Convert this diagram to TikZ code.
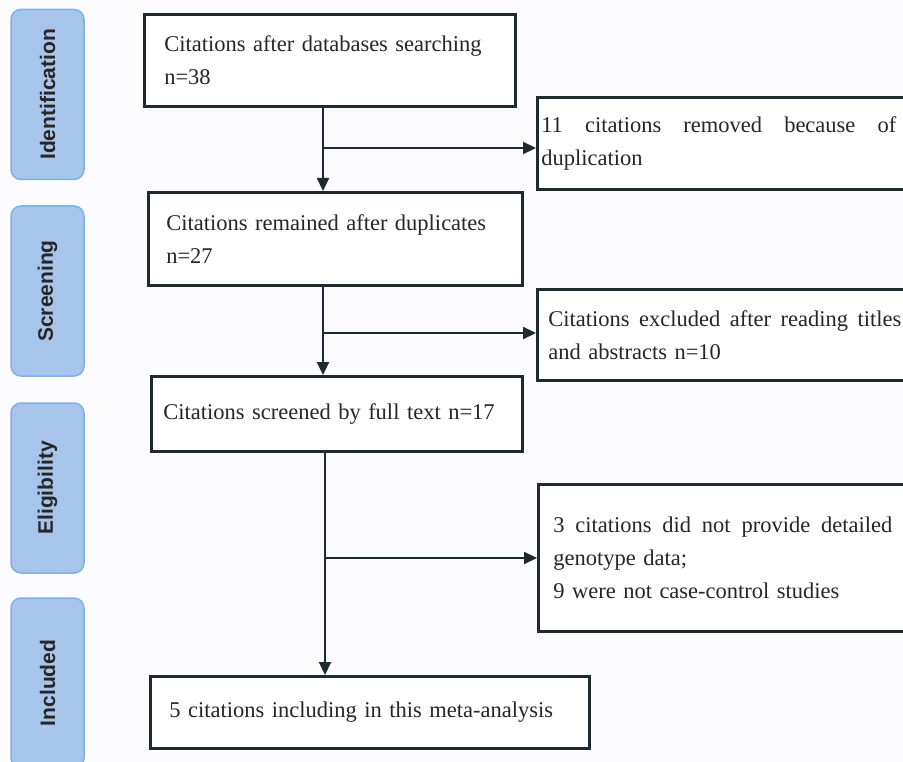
\documentclass[tikz,border=0pt]{standalone}
\usepackage{fontspec}
\setmainfont{Liberation Serif}
\newfontfamily\stagefont{Liberation Sans}
\usetikzlibrary{arrows.meta,positioning}
\definecolor{stagefill}{HTML}{A7C5EB}
\definecolor{stageline}{HTML}{80B0E4}
\definecolor{boxline}{HTML}{1E2A2E}
\definecolor{paper}{HTML}{FCFCFE}
\tikzset{
	stage/.style={rectangle, rounded corners=10pt, draw=stageline, line width=1.5pt, fill=stagefill, rotate=90, minimum width=170pt, minimum height=73pt, font=\stagefont\bfseries\fontsize{21}{25}\selectfont, text=black!85},
	box/.style={rectangle, draw=boxline, line width=2.6pt, fill=white, align=left, anchor=north west, inner ysep=0pt, font=\fontsize{22.5}{33}\selectfont, text=black!85},
	flow/.style={-{Triangle[width=12pt,length=13pt]}, color=boxline, line width=2.2pt}
}
\newcommand{\spreadline}[2]{\hbox to #1{#2}}
\begin{document}
\begin{tikzpicture}[x=1pt, y=-1pt]
\useasboundingbox (0,0) rectangle (903,762);
\clip (0,0) rectangle (903,762);
\fill[paper] (0,0) rectangle (903,762);

% stages
    \node[stage] (S1) at (47.5,94.5) {Identification};
    \node[stage] (S2) at (47.5,291) {Screening};
    \node[stage] (S3) at (47.5,488) {Eligibility};
    \node[stage] (S4) at (47.5,683) {Included};

% main column
    \node[box, inner xsep=20pt, text width=331pt, minimum height=92pt] (B1) at (143,13) {Citations after databases searching\\n=38};
    \node[box, inner xsep=18pt, text width=338pt, minimum height=93pt] (B2) at (147,191) {Citations remained after duplicates\\n=27};
    \node[box, inner xsep=12pt, text width=347pt, minimum height=75pt] (B3) at (150,375) {Citations screened by full text n=17};
    \node[box, inner xsep=19pt, text width=401pt, minimum height=72pt] (B4) at (149,675) {5 citations including in this meta-analysis};

% excluded
    \node[box, inner xsep=4pt, text width=380pt, minimum height=92pt] (R1) at (536,96) {\spreadline{355pt}{11\hfill citations\hfill removed\hfill because\hfill of}\\duplication};
    \node[box, inner xsep=11pt, text width=380pt, minimum height=91pt] (R2) at (536,288) {\spreadline{353pt}{Citations\hfill excluded\hfill after\hfill reading\hfill titles}\\and abstracts n=10};
    \node[box, inner xsep=15pt, text width=380pt, minimum height=147pt] (R3) at (537,483) {\spreadline{339pt}{3\hfill citations\hfill did\hfill not\hfill provide\hfill detailed}\\genotype data;\\9 were not case-control studies};

    \coordinate (J1) at (323,148);
    \coordinate (J2) at (323,333);
    \coordinate (J3) at (325,558);

    \draw[flow] (B1.south -| J1) -- (B2.north -| J1);
    \draw[flow] (J1) -- (J1 -| R1.west);
    \draw[flow] (B2.south -| J2) -- (B3.north -| J2);
    \draw[flow] (J2) -- (J2 -| R2.west);
    \draw[flow] (B3.south -| J3) -- (B4.north -| J3);
    \draw[flow] (J3) -- (J3 -| R3.west);
\end{tikzpicture}
\end{document}
